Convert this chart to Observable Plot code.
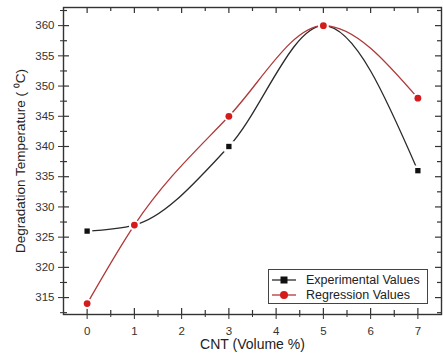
<!DOCTYPE html>
<html><head><meta charset="utf-8">
<script src="https://cdn.jsdelivr.net/npm/d3@7"></script>
<script src="https://cdn.jsdelivr.net/npm/@observablehq/plot@0.6"></script>
<style>
body{margin:0;background:#fff;}
#chart{position:relative;width:443px;height:362px;font-family:"Liberation Sans",Arial,sans-serif;}
.legend{position:absolute;left:268px;top:269px;width:160px;height:35px;border:1px solid #444;box-sizing:border-box;background:#fff;font-size:12.5px;color:#222;}
.row{position:absolute;left:3px;height:15px;display:flex;align-items:center;}
.row svg{margin-right:10px;}
</style></head>
<body><div id="chart"></div>
<script>
const cnt = [0, 1, 3, 5, 7];
const experimental = [326, 327, 340, 360, 336];
const regression = [314, 327, 345, 360, 348];
const xTicks = [0, 1, 2, 3, 4, 5, 6, 7];
const xMinor = [0.5, 1.5, 2.5, 3.5, 4.5, 5.5, 6.5];
const yTicks = [315, 320, 325, 330, 335, 340, 345, 350, 355, 360];
const yMinor = [312.5, 317.5, 322.5, 327.5, 332.5, 337.5, 342.5, 347.5, 352.5, 357.5, 362.5];
const seriesNames = ["Experimental Values", "Regression Values"];
const xLabel = "CNT (Volume %)";
const yLabel = "Degradation Temperature ( \u2070C)";

const expRows = cnt.map((x, i) => ({x, y: experimental[i]}));
const regRows = cnt.map((x, i) => ({x, y: regression[i]}));

const width = 443, height = 362;
const mL = 63, mR = 2, mT = 7, mB = 48;
const W = width - mL - mR, H = height - mT - mB;
const ink = "#333";

const chart = Plot.plot({
  width, height,
  marginLeft: mL, marginRight: mR, marginTop: mT, marginBottom: mB,
  style: {fontFamily: "Liberation Sans, Arial, sans-serif", background: "white"},
  x: {domain: [-0.5, 7.5]},
  y: {domain: [312.2, 363]},
  marks: [
    Plot.axisX(xTicks, {tickSize: 5, tickPadding: 7, fontSize: 11.5, color: ink, label: null}),
    Plot.axisX(xMinor, {tickSize: 3, tickFormat: () => "", color: ink, label: null}),
    Plot.axisY(yTicks, {tickSize: 5, tickPadding: 4, fontSize: 11.5, color: ink, label: null}),
    Plot.axisY(yMinor, {tickSize: 3, tickFormat: () => "", color: ink, label: null}),
    Plot.tickY(yTicks, {y: d => d, insetRight: W - 6, stroke: ink, strokeWidth: 1.2}),
    Plot.tickY(yMinor, {y: d => d, insetRight: W - 4, stroke: ink, strokeWidth: 1.2}),
    Plot.tickY(yTicks, {y: d => d, insetLeft: W - 6, stroke: ink, strokeWidth: 1.2}),
    Plot.tickY(yMinor, {y: d => d, insetLeft: W - 4, stroke: ink, strokeWidth: 1.2}),
    Plot.tickX(xTicks, {x: d => d, insetBottom: H - 6, stroke: ink, strokeWidth: 1.2}),
    Plot.tickX(xMinor, {x: d => d, insetBottom: H - 4, stroke: ink, strokeWidth: 1.2}),
    Plot.tickX(xTicks, {x: d => d, insetTop: H - 6, stroke: ink, strokeWidth: 1.2}),
    Plot.tickX(xMinor, {x: d => d, insetTop: H - 4, stroke: ink, strokeWidth: 1.2}),
    Plot.frame({stroke: ink, strokeWidth: 1.4}),
    Plot.line(expRows, {x: "x", y: "y", curve: "monotone-x", stroke: "#2a2a2a", strokeWidth: 1.3}),
    Plot.dot(expRows, {x: "x", y: "y", symbol: "square", r: 3, fill: "#111", stroke: "white", strokeWidth: 5, paintOrder: "stroke"}),
    Plot.line(regRows, {x: "x", y: "y", curve: "monotone-x", stroke: "#b03838", strokeWidth: 1.3}),
    Plot.dot(regRows, {x: "x", y: "y", r: 3.4, fill: "#d41c1c", stroke: "white", strokeWidth: 4, paintOrder: "stroke"}),
    Plot.text([xLabel], {frameAnchor: "bottom", lineAnchor: "middle", dy: 30, fontSize: 14, fill: "#222"}),
    Plot.text([yLabel], {frameAnchor: "left", textAnchor: "middle", lineAnchor: "middle", dx: -43, rotate: -90, fontSize: 13.5, fill: "#222"})
  ]
});
const root = document.getElementById("chart");
root.appendChild(chart);

const legend = document.createElement("div");
legend.className = "legend";
const sym = [
  '<svg width="24" height="12"><line x1="0" y1="6" x2="24" y2="6" stroke="#2a2a2a" stroke-width="1.3"/><rect x="8.5" y="2.5" width="7" height="7" fill="#111"/></svg>',
  '<svg width="24" height="12"><line x1="0" y1="6" x2="24" y2="6" stroke="#b03838" stroke-width="1.3"/><circle cx="12" cy="6" r="4" fill="#d41c1c"/></svg>'
];
seriesNames.forEach((name, i) => {
  const row = document.createElement("div");
  row.className = "row";
  row.style.top = (2 + i * 15) + "px";
  row.innerHTML = sym[i] + "<span>" + name + "</span>";
  legend.appendChild(row);
});
root.appendChild(legend);
</script>
</body></html>
